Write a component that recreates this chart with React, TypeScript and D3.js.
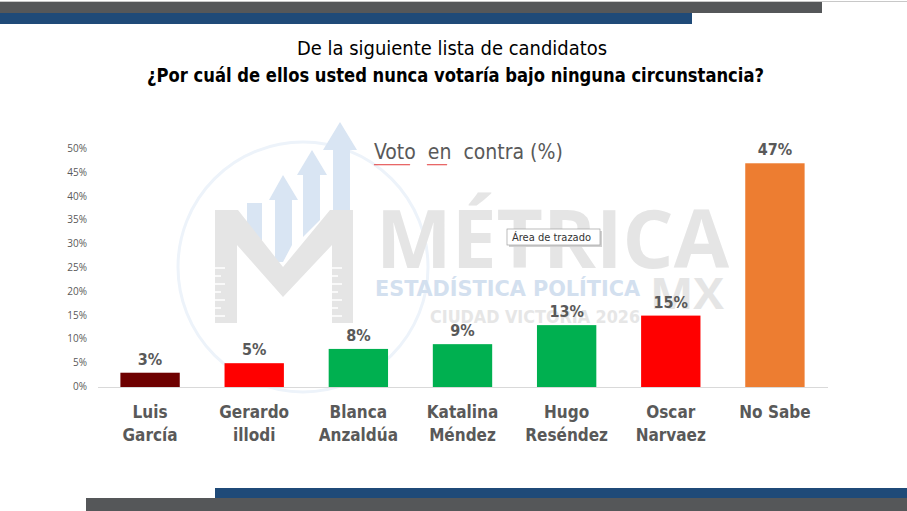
import React from "react";
import * as d3 from "d3";

const categories = [
  ["Luis", "García"],
  ["Gerardo", "illodi"],
  ["Blanca", "Anzaldúa"],
  ["Katalina", "Méndez"],
  ["Hugo", "Reséndez"],
  ["Oscar", "Narvaez"],
  ["No Sabe"],
];
const values = [0.03, 0.05, 0.08, 0.09, 0.13, 0.15, 0.47];
const barColors = ["#6e0000", "#ff0000", "#00b050", "#00b050", "#00b050", "#ff0000", "#ed7d31"];
const yTicks = [0, 0.05, 0.1, 0.15, 0.2, 0.25, 0.3, 0.35, 0.4, 0.45, 0.5];

const W = 907;
const H = 511;
const FONT = "'Liberation Sans Narrow', 'DejaVu Sans Condensed', 'Open Sans', sans-serif";
const GRAY = "#595959";
const WM_BLUE = "#d9e5f3";
const WM_GRAY = "#e5e5e5";

// wavy spell-check underline
const wavy = (x0: number, x1: number, y: number) => {
  let d = `M${x0},${y}`;
  for (let x = x0; x < x1; x += 2) d += ` L${x + 1},${y + 1.3} L${x + 2},${y}`;
  return d;
};

// little ruler ticks on the watermark M legs
const rulerTicks = (x0: number) =>
  d3.range(0, 7).map((i) => (
    <line key={i} x1={x0} x2={x0 + (i % 2 ? 6 : 10)} y1={268 + i * 8} y2={268 + i * 8} stroke="#fff" strokeWidth={1.5} />
  ));

const App: React.FC = () => {
  const keys = categories.map((c) => c.join(" "));
  const x = d3.scaleBand<string>().domain(keys).range([98, 827]).paddingInner(0.43).paddingOuter(0.215);
  const y = d3.scaleLinear().domain([0, 0.5]).range([387, 149]);
  const pct = d3.format(".0%");

  return (
    <svg
      width={W}
      height={H}
      style={{ position: "absolute", left: 0, top: 0, background: "#fff" }}
      fontFamily={FONT}
    >
      {/* header bands */}
      <rect x={0} y={1} width={907} height={1} fill="#c8c8c8" />
      <rect x={0} y={2} width={822} height={11} fill="#555759" />
      <rect x={0} y={13} width={692} height={11} fill="#1f4a78" />
      {/* footer bands */}
      <rect x={215} y={488} width={692} height={10} fill="#1f4a78" />
      <rect x={86} y={498} width={821} height={13} fill="#555759" />

      {/* titles */}
      <text x={297} y={55} fontSize={19} fill="#000" textLength={310} lengthAdjust="spacingAndGlyphs">
        De la siguiente lista de candidatos
      </text>
      <text x={147} y={82} fontSize={19.5} fontWeight="bold" fill="#000" textLength={617} lengthAdjust="spacingAndGlyphs">
        ¿Por cuál de ellos usted nunca votaría bajo ninguna circunstancia?
      </text>

      {/* watermark */}
      <g>
        <circle cx={303} cy={267} r={125} fill="none" stroke="#edf3fa" strokeWidth={3} />
        <rect x={247} y={203} width={15} height={40} fill={WM_BLUE} />
        <polygon points="275,262 275,200 269,200 283,175 298,200 292,200 292,245 283,262" fill={WM_BLUE} />
        <polygon points="303,237 303,175 297,175 312,150 327,175 320,175 320,220" fill={WM_BLUE} />
        <polygon points="333,212 333,150 323,150 340,122 357,150 350,150 350,212" fill={WM_BLUE} />
        <polygon
          points="215,323 215,210 238,210 283,267 330,210 353,210 353,323 332,323 332,245 283,297 237,245 237,323"
          fill={WM_GRAY}
        />
        {rulerTicks(215)}
        {rulerTicks(332)}
        <text x={376} y={268} fontSize={81} fontWeight="bold" fill={WM_GRAY} fontFamily="'Open Sans', sans-serif" textLength={353} lengthAdjust="spacingAndGlyphs">
          MÉTRICA
        </text>
        <text x={375} y={296} fontSize={22} fontWeight="bold" fill="#d3e0ef" textLength={265} lengthAdjust="spacingAndGlyphs">
          ESTADÍSTICA POLÍTICA
        </text>
        <text x={650} y={309} fontSize={43} fontWeight="bold" fill={WM_GRAY} fontFamily="'Open Sans', sans-serif" textLength={74} lengthAdjust="spacingAndGlyphs">
          MX
        </text>
        <text x={430} y={323} fontSize={18} fontWeight="bold" fill="#e6e6e6" textLength={210} lengthAdjust="spacingAndGlyphs">
          CIUDAD VICTORIA 2026
        </text>
      </g>

      {/* y axis labels */}
      {yTicks.map((t) => (
        <text key={t} x={87} y={y(t) + 3} textAnchor="end" fontSize={10} fill={GRAY} fontFamily="'Open Sans', sans-serif">
          {pct(t)}
        </text>
      ))}

      {/* baseline */}
      <line x1={98} x2={828} y1={387.5} y2={387.5} stroke="#d9d9d9" />

      {/* bars */}
      {keys.map((k, i) => (
        <g key={k}>
          <rect x={x(k)} y={y(values[i])} width={x.bandwidth()} height={y(0) - y(values[i])} fill={barColors[i]} />
          <text
            x={(x(k) as number) + x.bandwidth() / 2}
            y={y(values[i]) - 8}
            textAnchor="middle"
            fontSize={16}
            fontWeight="bold"
            fill={GRAY}
          >
            {pct(values[i])}
          </text>
          {categories[i].map((line, j) => (
            <text
              key={j}
              x={(x(k) as number) + x.bandwidth() / 2}
              y={418 + j * 23}
              textAnchor="middle"
              fontSize={17}
              fontWeight="bold"
              fill={GRAY}
            >
              {line}
            </text>
          ))}
        </g>
      ))}

      {/* chart title */}
      <text x={374} y={159} fontSize={21} fill={GRAY} style={{ whiteSpace: "pre" }}>
        {"Voto  en  contra (%)"}
      </text>
      <path d={wavy(374, 410, 164)} fill="none" stroke="#e03030" strokeWidth={0.8} />
      <path d={wavy(427, 447, 164)} fill="none" stroke="#e03030" strokeWidth={0.8} />

      {/* tooltip */}
      <rect x={509} y={231} width={93} height={16} fill="#d0d0d0" />
      <rect x={507} y={229} width={93} height={16} fill="#fff" stroke="#a0a0a0" strokeWidth={0.7} />
      <text x={512} y={241} fontSize={11} fill="#333">
        Área de trazado
      </text>
    </svg>
  );
};

export default App;
